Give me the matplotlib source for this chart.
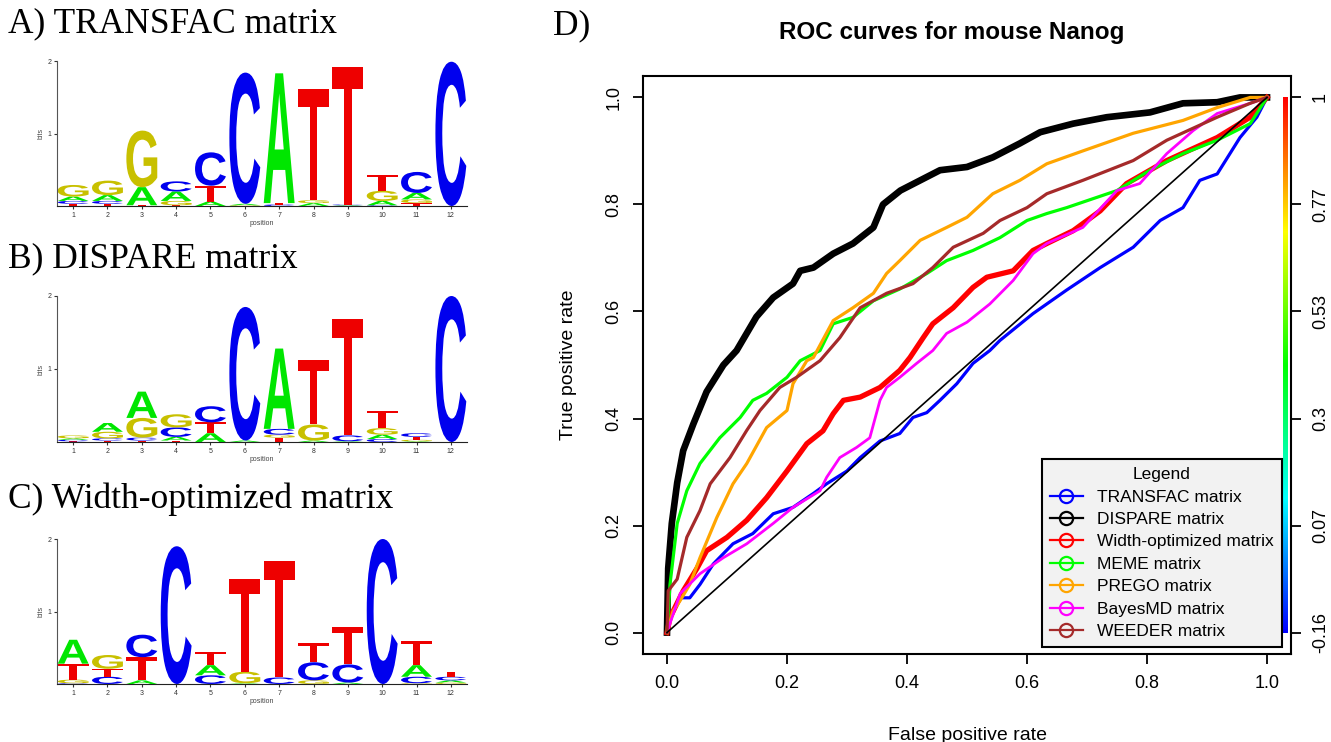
import numpy as np
import matplotlib
matplotlib.use('Agg')
import matplotlib.pyplot as plt
from matplotlib.textpath import TextPath
from matplotlib.patches import PathPatch
from matplotlib.transforms import Affine2D
from matplotlib.font_manager import FontProperties
from matplotlib.colors import hsv_to_rgb
from matplotlib.lines import Line2D

# ---- sequence logos: per position, (letter, bits) stacked bottom -> top ----
positions = list(range(1, 13))

transfac_logo = [
    [('T', 0.03), ('C', 0.04), ('A', 0.06), ('G', 0.16)],
    [('T', 0.03), ('C', 0.04), ('A', 0.08), ('G', 0.20)],
    [('T', 0.01), ('A', 0.25), ('G', 0.78)],
    [('T', 0.01), ('G', 0.06), ('A', 0.13), ('C', 0.14)],
    [('A', 0.06), ('T', 0.22), ('C', 0.46)],
    [('G', 0.01), ('A', 0.02), ('C', 1.81)],
    [('C', 0.02), ('T', 0.02), ('A', 1.79)],
    [('A', 0.04), ('G', 0.04), ('T', 1.53)],
    [('A', 0.01), ('C', 0.01), ('T', 1.90)],
    [('C', 0.01), ('A', 0.06), ('G', 0.14), ('T', 0.22)],
    [('T', 0.04), ('G', 0.05), ('A', 0.09), ('C', 0.29)],
    [('C', 1.99)],
]

dispare_logo = [
    [('T', 0.01), ('C', 0.02), ('A', 0.02), ('G', 0.04)],
    [('T', 0.02), ('C', 0.03), ('G', 0.09), ('A', 0.12)],
    [('T', 0.02), ('C', 0.04), ('G', 0.27), ('A', 0.36)],
    [('T', 0.02), ('A', 0.05), ('C', 0.13), ('G', 0.18)],
    [('A', 0.12), ('T', 0.15), ('C', 0.22)],
    [('A', 0.02), ('C', 1.83)],
    [('T', 0.06), ('G', 0.04), ('C', 0.08), ('A', 1.10)],
    [('A', 0.02), ('G', 0.22), ('T', 0.88)],
    [('A', 0.01), ('C', 0.08), ('T', 1.60)],
    [('C', 0.04), ('A', 0.06), ('G', 0.09), ('T', 0.24)],
    [('A', 0.01), ('G', 0.02), ('T', 0.04), ('C', 0.05)],
    [('C', 2.00)],
]

width_opt_logo = [
    [('C', 0.01), ('G', 0.05), ('T', 0.22), ('A', 0.33)],
    [('C', 0.10), ('T', 0.11), ('G', 0.19)],
    [('A', 0.05), ('T', 0.32), ('C', 0.31)],
    [('C', 1.90)],
    [('C', 0.12), ('A', 0.14), ('T', 0.18)],
    [('A', 0.01), ('G', 0.16), ('T', 1.28)],
    [('C', 0.09), ('T', 1.61)],
    [('G', 0.05), ('C', 0.25), ('T', 0.27)],
    [('A', 0.02), ('C', 0.25), ('T', 0.51)],
    [('C', 2.00)],
    [('G', 0.01), ('C', 0.09), ('A', 0.16), ('T', 0.34)],
    [('G', 0.02), ('A', 0.03), ('C', 0.05), ('T', 0.07)],
]

# ---- ROC curves ----
transfac_fpr = [0, 0.005, 0.022, 0.038, 0.055, 0.077, 0.11, 0.143, 0.177, 0.21, 0.244, 0.266, 0.3,
                0.322, 0.355, 0.388, 0.41, 0.433, 0.455, 0.483, 0.51, 0.538, 0.555, 0.61, 0.666, 0.722,
                0.777, 0.822, 0.86, 0.888, 0.917, 0.955, 0.983, 1.0]
transfac_tpr = [0, 0.03, 0.065, 0.065, 0.09, 0.128, 0.166, 0.185, 0.222, 0.234, 0.26, 0.278, 0.302,
                0.327, 0.358, 0.372, 0.402, 0.411, 0.434, 0.465, 0.503, 0.527, 0.546, 0.596, 0.64, 0.682,
                0.72, 0.77, 0.794, 0.845, 0.857, 0.925, 0.963, 1.0]

dispare_fpr = [0, 0.002, 0.008, 0.017, 0.027, 0.044, 0.066, 0.094, 0.116, 0.149, 0.177, 0.21, 0.222,
               0.244, 0.277, 0.31, 0.344, 0.36, 0.389, 0.422, 0.455, 0.5, 0.543, 0.588, 0.622, 0.677,
               0.733, 0.805, 0.86, 0.917, 0.955, 1.0]
dispare_tpr = [0, 0.12, 0.204, 0.28, 0.34, 0.39, 0.45, 0.50, 0.527, 0.59, 0.626, 0.652, 0.676,
               0.682, 0.708, 0.727, 0.757, 0.80, 0.826, 0.845, 0.864, 0.87, 0.888, 0.914, 0.935, 0.951,
               0.963, 0.972, 0.989, 0.991, 1.0, 1.0]

width_fpr = [0, 0.005, 0.027, 0.05, 0.066, 0.1, 0.133, 0.166, 0.2, 0.233, 0.26, 0.277, 0.294, 0.322,
             0.355, 0.388, 0.405, 0.427, 0.443, 0.477, 0.51, 0.533, 0.577, 0.61, 0.633, 0.677, 0.722,
             0.766, 0.833, 0.917, 0.972, 1.0]
width_tpr = [0, 0.028, 0.078, 0.12, 0.153, 0.178, 0.21, 0.252, 0.302, 0.353, 0.377, 0.409, 0.434, 0.44,
             0.458, 0.49, 0.514, 0.551, 0.577, 0.607, 0.645, 0.664, 0.676, 0.714, 0.727, 0.751, 0.788,
             0.839, 0.882, 0.925, 0.963, 1.0]

meme_fpr = [0, 0.005, 0.017, 0.033, 0.055, 0.088, 0.122, 0.143, 0.166, 0.2, 0.222, 0.255, 0.277, 0.31,
            0.344, 0.388, 0.433, 0.466, 0.51, 0.555, 0.6, 0.633, 0.666, 0.75, 0.805, 0.86, 0.917, 0.972, 1.0]
meme_tpr = [0, 0.09, 0.204, 0.265, 0.316, 0.364, 0.402, 0.434, 0.447, 0.477, 0.508, 0.527, 0.577, 0.589,
            0.62, 0.642, 0.671, 0.695, 0.714, 0.738, 0.77, 0.783, 0.794, 0.826, 0.864, 0.895, 0.92, 0.951, 1.0]

prego_fpr = [0, 0.01, 0.022, 0.038, 0.055, 0.083, 0.11, 0.133, 0.166, 0.2, 0.21, 0.233, 0.244, 0.277,
             0.31, 0.344, 0.366, 0.388, 0.422, 0.466, 0.5, 0.543, 0.588, 0.633, 0.693, 0.777, 0.86,
             0.917, 0.972, 1.0]
prego_tpr = [0, 0.04, 0.06, 0.09, 0.14, 0.215, 0.278, 0.316, 0.383, 0.415, 0.465, 0.508, 0.514, 0.583,
             0.607, 0.634, 0.671, 0.695, 0.733, 0.757, 0.776, 0.82, 0.845, 0.876, 0.90, 0.933, 0.957,
             0.981, 1.0, 1.0]

bayes_fpr = [0, 0.005, 0.022, 0.055, 0.094, 0.133, 0.177, 0.21, 0.255, 0.266, 0.288, 0.316, 0.338,
             0.355, 0.366, 0.388, 0.416, 0.443, 0.466, 0.5, 0.538, 0.577, 0.61, 0.633, 0.693, 0.75,
             0.788, 0.833, 0.877, 0.917, 0.972, 1.0]
bayes_tpr = [0, 0.017, 0.073, 0.11, 0.14, 0.166, 0.204, 0.234, 0.265, 0.29, 0.327, 0.346, 0.364,
             0.434, 0.458, 0.477, 0.503, 0.527, 0.559, 0.58, 0.614, 0.658, 0.708, 0.727, 0.757, 0.826,
             0.839, 0.895, 0.938, 0.97, 0.989, 1.0]

weeder_fpr = [0, 0.002, 0.017, 0.033, 0.055, 0.072, 0.105, 0.133, 0.155, 0.188, 0.216, 0.255, 0.288,
              0.322, 0.366, 0.41, 0.443, 0.477, 0.527, 0.555, 0.6, 0.633, 0.693, 0.777, 0.833, 0.917,
              0.972, 1.0]
weeder_tpr = [0, 0.078, 0.10, 0.178, 0.228, 0.278, 0.327, 0.378, 0.415, 0.458, 0.477, 0.508, 0.551,
              0.607, 0.634, 0.652, 0.682, 0.72, 0.746, 0.77, 0.794, 0.82, 0.845, 0.882, 0.92, 0.963,
              0.989, 1.0]

diag_x = [0, 1]
diag_y = [0, 1]

curve_names = ['TRANSFAC matrix', 'DISPARE matrix', 'Width-optimized matrix', 'MEME matrix',
               'PREGO matrix', 'BayesMD matrix', 'WEEDER matrix']
curve_colors = ['#0000ff', '#000000', '#ff0000', '#00ff00', '#ffa500', '#ff00ff', '#a52a2a']
curve_widths = [2.3, 4.8, 3.8, 2.3, 2.3, 2.0, 2.3]
curves = [(transfac_fpr, transfac_tpr), (dispare_fpr, dispare_tpr), (width_fpr, width_tpr),
          (meme_fpr, meme_tpr), (prego_fpr, prego_tpr), (bayes_fpr, bayes_tpr),
          (weeder_fpr, weeder_tpr)]

cutoff_ticks = [0, 0.2, 0.4, 0.6, 0.8, 1.0]
cutoff_labels = ['-0.16', '0.07', '0.3', '0.53', '0.77', '1']

letter_colors = {'A': '#00e600', 'C': '#0000ee', 'G': '#c8c000', 'T': '#ee0000'}
logo_font = FontProperties(family='Liberation Sans', weight='bold')

plt.rcParams['font.family'] = ['Liberation Sans', 'DejaVu Sans']

fig = plt.figure(figsize=(13.31, 7.42), dpi=100)
W, H = 1331.0, 742.0


def px_axes(left, top, right, bottom):
    return fig.add_axes([left / W, 1 - bottom / H, (right - left) / W, (bottom - top) / H])


def draw_letter(ax, ch, x, y0, h, width=0.9):
    tp = TextPath((0, 0), ch, size=1, prop=logo_font)
    bb = tp.get_extents()
    t = (Affine2D().translate(-bb.x0, -bb.y0)
         .scale(width / bb.width, h / bb.height)
         .translate(x - width / 2, y0))
    ax.add_patch(PathPatch(t.transform_path(tp), lw=0, color=letter_colors[ch]))


def draw_logo(ax, logo):
    for pos, stack in zip(positions, logo):
        y = 0.0
        for ch, h in stack:
            draw_letter(ax, ch, pos, y, h)
            y += h
    ax.set_xlim(0.53, 12.47)
    ax.set_ylim(0, 2)
    ax.set_xticks(positions)
    ax.set_yticks([1, 2])
    ax.tick_params(labelsize=5, length=2.5, width=0.8, pad=1.5, colors='#333333')
    for s in ['top', 'right']:
        ax.spines[s].set_visible(False)
    ax.spines['left'].set_color('#555555')
    ax.spines['bottom'].set_color('#222222')
    ax.set_ylabel('bits', fontsize=5, labelpad=2, color='#444444')
    ax.set_xlabel('position', fontsize=5, labelpad=1, color='#444444')


logo_boxes = [(57, 61, 467, 206), (57, 296, 467, 442), (57, 539, 467, 684)]
for box, logo in zip(logo_boxes, [transfac_logo, dispare_logo, width_opt_logo]):
    draw_logo(px_axes(*box), logo)

serif = ['Liberation Serif', 'DejaVu Serif']
fig.text(8 / W, 1 - 24 / H, 'A) TRANSFAC matrix', family=serif, fontsize=25.5, va='center')
fig.text(8 / W, 1 - 259 / H, 'B) DISPARE matrix', family=serif, fontsize=25.5, va='center')
fig.text(8 / W, 1 - 499 / H, 'C) Width-optimized matrix', family=serif, fontsize=25.5, va='center')
fig.text(553 / W, 1 - 26 / H, 'D)', family=serif, fontsize=25.5, va='center')

# ---- ROC panel ----
ax = px_axes(643, 76, 1291, 654)
for (fx, ty), c, lw in zip(curves, curve_colors, curve_widths):
    ax.plot(fx, ty, color=c, lw=lw, solid_joinstyle='round')
ax.plot(diag_x, diag_y, color='black', lw=1.2)

# colour key for the cutoffs
hues = np.linspace(0.667, 0.0, 256)
grad = hsv_to_rgb(np.stack([hues, np.ones_like(hues), np.ones_like(hues)], axis=1))[:, None, :]
ax.imshow(grad, extent=(1.027, 1.035, 0, 1), origin='lower', aspect='auto', zorder=1)

ax.set_xlim(-0.04, 1.04)
ax.set_ylim(-0.04, 1.04)
ax.set_xticks([0, 0.2, 0.4, 0.6, 0.8, 1.0])
ax.set_yticks([0, 0.2, 0.4, 0.6, 0.8, 1.0])
ax.set_xticklabels(['0.0', '0.2', '0.4', '0.6', '0.8', '1.0'])
ax.set_yticklabels(['0.0', '0.2', '0.4', '0.6', '0.8', '1.0'], rotation=90, va='center')
ax.tick_params(labelsize=13, length=7, width=1.3, pad=8)
for s in ax.spines.values():
    s.set_linewidth(1.5)
ax.set_xlabel('False positive rate', fontsize=14, labelpad=25)
ax.set_ylabel('True positive rate', fontsize=14, labelpad=20)
ax.set_title('ROC curves for mouse Nanog', fontsize=17.5, fontweight='bold', pad=27,
             x=(952 - 643) / 648.0)

ax2 = ax.twinx()
ax2.set_ylim(ax.get_ylim())
ax2.set_yticks(cutoff_ticks)
ax2.set_yticklabels(cutoff_labels, rotation=90, va='center')
ax2.tick_params(labelsize=13, length=7, width=1.3, pad=8)
for s in ax2.spines.values():
    s.set_visible(False)

handles = [Line2D([], [], color=c, lw=1.6, marker='o', mfc='none', ms=9.5, mew=1.6)
           for c in curve_colors]
leg = ax.legend(handles, curve_names, loc='lower right', bbox_to_anchor=(0.986, 0.012),
                borderaxespad=0, title='Legend', fontsize=12.5, title_fontsize=12.5, frameon=True,
                fancybox=False, handlelength=1.9, handletextpad=0.85, labelspacing=0.42,
                borderpad=0.45, numpoints=1)
leg.get_frame().set_facecolor('#f2f2f2')
leg.get_frame().set_edgecolor('black')
leg.get_frame().set_linewidth(1.5)
leg.get_frame().set_alpha(1)

fig.savefig('out.png', dpi=100)
